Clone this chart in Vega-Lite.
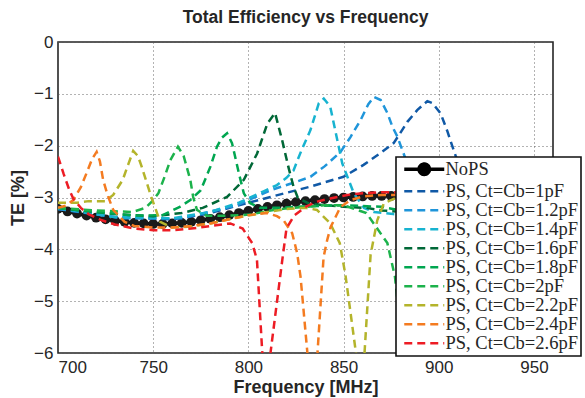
{
  "$schema": "https://vega.github.io/schema/vega-lite/v6.json",
  "autosize": {"type": "none"},
  "width": 495,
  "height": 311,
  "padding": {"left": 58, "top": 42, "right": 32, "bottom": 45},
  "background": "white",
  "title": {"text": "Total Efficiency vs Frequency", "font": "Liberation Sans", "fontSize": 17.5, "fontWeight": "bold", "color": "#262626", "offset": 7, "anchor": "middle"},
  "config": {
    "view": {"stroke": "#262626", "strokeWidth": 1.6},
    "axis": {"labelFont": "Liberation Sans", "labelFontSize": 17, "labelColor": "#262626", "titleFont": "Liberation Sans", "titleFontSize": 18, "titleFontWeight": "bold", "titleColor": "#262626", "grid": true, "gridDash": [1, 3], "gridColor": "#555555", "gridWidth": 0.9, "ticks": false, "domain": false}
  },
  "data": {"values": [
    {"s":"NoPS","f":700,"te":-3.22},{"s":"NoPS","f":705,"te":-3.27},{"s":"NoPS","f":710,"te":-3.31},{"s":"NoPS","f":715,"te":-3.35},{"s":"NoPS","f":720,"te":-3.39},{"s":"NoPS","f":725,"te":-3.42},{"s":"NoPS","f":730,"te":-3.45},{"s":"NoPS","f":735,"te":-3.47},{"s":"NoPS","f":740,"te":-3.49},{"s":"NoPS","f":745,"te":-3.5},{"s":"NoPS","f":750,"te":-3.51},{"s":"NoPS","f":755,"te":-3.51},{"s":"NoPS","f":760,"te":-3.5},{"s":"NoPS","f":765,"te":-3.49},{"s":"NoPS","f":770,"te":-3.47},{"s":"NoPS","f":775,"te":-3.44},{"s":"NoPS","f":780,"te":-3.41},{"s":"NoPS","f":785,"te":-3.38},{"s":"NoPS","f":790,"te":-3.34},{"s":"NoPS","f":795,"te":-3.3},{"s":"NoPS","f":800,"te":-3.26},{"s":"NoPS","f":805,"te":-3.22},{"s":"NoPS","f":810,"te":-3.18},{"s":"NoPS","f":815,"te":-3.15},{"s":"NoPS","f":820,"te":-3.12},{"s":"NoPS","f":825,"te":-3.09},{"s":"NoPS","f":830,"te":-3.07},{"s":"NoPS","f":835,"te":-3.05},{"s":"NoPS","f":840,"te":-3.03},{"s":"NoPS","f":845,"te":-3.01},{"s":"NoPS","f":850,"te":-3.0},{"s":"NoPS","f":855,"te":-2.99},{"s":"NoPS","f":860,"te":-2.98},{"s":"NoPS","f":865,"te":-2.97},{"s":"NoPS","f":870,"te":-2.97},{"s":"NoPS","f":875,"te":-2.97},{"s":"NoPS","f":880,"te":-2.97},{"s":"NoPS","f":885,"te":-2.97},{"s":"NoPS","f":890,"te":-2.98},{"s":"NoPS","f":895,"te":-2.98},{"s":"NoPS","f":900,"te":-2.99},{"s":"NoPS","f":905,"te":-3.0},{"s":"NoPS","f":910,"te":-3.0},{"s":"NoPS","f":915,"te":-3.01},{"s":"NoPS","f":920,"te":-3.02},{"s":"NoPS","f":925,"te":-3.03},{"s":"NoPS","f":930,"te":-3.04},{"s":"NoPS","f":935,"te":-3.05},{"s":"NoPS","f":940,"te":-3.06},{"s":"NoPS","f":945,"te":-3.07},{"s":"NoPS","f":950,"te":-3.08},{"s":"NoPS","f":955,"te":-3.09},{"s":"NoPS","f":960,"te":-3.1},

    {"s":"PS, Ct=Cb=1pF","f":700,"te":-3.22},{"s":"PS, Ct=Cb=1pF","f":730,"te":-3.38},{"s":"PS, Ct=Cb=1pF","f":760,"te":-3.42},{"s":"PS, Ct=Cb=1pF","f":778,"te":-3.32},{"s":"PS, Ct=Cb=1pF","f":795,"te":-3.15},{"s":"PS, Ct=Cb=1pF","f":811.6,"te":-2.99},{"s":"PS, Ct=Cb=1pF","f":832.6,"te":-2.79},{"s":"PS, Ct=Cb=1pF","f":850,"te":-2.6},{"s":"PS, Ct=Cb=1pF","f":860.5,"te":-2.37},{"s":"PS, Ct=Cb=1pF","f":869.5,"te":-2.14},{"s":"PS, Ct=Cb=1pF","f":876.3,"te":-1.95},{"s":"PS, Ct=Cb=1pF","f":879,"te":-1.8},{"s":"PS, Ct=Cb=1pF","f":883.5,"te":-1.54},{"s":"PS, Ct=Cb=1pF","f":888.8,"te":-1.31},{"s":"PS, Ct=Cb=1pF","f":894,"te":-1.14},{"s":"PS, Ct=Cb=1pF","f":896.7,"te":-1.18},{"s":"PS, Ct=Cb=1pF","f":901,"te":-1.38},{"s":"PS, Ct=Cb=1pF","f":904.6,"te":-1.73},{"s":"PS, Ct=Cb=1pF","f":907.2,"te":-2.02},{"s":"PS, Ct=Cb=1pF","f":909,"te":-2.21},{"s":"PS, Ct=Cb=1pF","f":915,"te":-2.7},{"s":"PS, Ct=Cb=1pF","f":925,"te":-3.1},{"s":"PS, Ct=Cb=1pF","f":940,"te":-3.3},{"s":"PS, Ct=Cb=1pF","f":960,"te":-3.4},

    {"s":"PS, Ct=Cb=1.2pF","f":700,"te":-3.22},{"s":"PS, Ct=Cb=1.2pF","f":735,"te":-3.4},{"s":"PS, Ct=Cb=1.2pF","f":765,"te":-3.4},{"s":"PS, Ct=Cb=1.2pF","f":794,"te":-3.15},{"s":"PS, Ct=Cb=1.2pF","f":811.6,"te":-2.86},{"s":"PS, Ct=Cb=1.2pF","f":825,"te":-2.7},{"s":"PS, Ct=Cb=1.2pF","f":832.6,"te":-2.6},{"s":"PS, Ct=Cb=1.2pF","f":840,"te":-2.4},{"s":"PS, Ct=Cb=1.2pF","f":848.4,"te":-2.12},{"s":"PS, Ct=Cb=1.2pF","f":853.7,"te":-1.83},{"s":"PS, Ct=Cb=1.2pF","f":859,"te":-1.5},{"s":"PS, Ct=Cb=1.2pF","f":863,"te":-1.2},{"s":"PS, Ct=Cb=1.2pF","f":866,"te":-1.06},{"s":"PS, Ct=Cb=1.2pF","f":869.5,"te":-1.12},{"s":"PS, Ct=Cb=1.2pF","f":873,"te":-1.37},{"s":"PS, Ct=Cb=1.2pF","f":875.6,"te":-1.63},{"s":"PS, Ct=Cb=1.2pF","f":878.3,"te":-1.83},{"s":"PS, Ct=Cb=1.2pF","f":882,"te":-2.2},{"s":"PS, Ct=Cb=1.2pF","f":886,"te":-2.6},{"s":"PS, Ct=Cb=1.2pF","f":892,"te":-2.95},{"s":"PS, Ct=Cb=1.2pF","f":900,"te":-3.2},{"s":"PS, Ct=Cb=1.2pF","f":920,"te":-3.35},{"s":"PS, Ct=Cb=1.2pF","f":960,"te":-3.5},

    {"s":"PS, Ct=Cb=1.4pF","f":700,"te":-3.2},{"s":"PS, Ct=Cb=1.4pF","f":730,"te":-3.38},{"s":"PS, Ct=Cb=1.4pF","f":760,"te":-3.4},{"s":"PS, Ct=Cb=1.4pF","f":780,"te":-3.28},{"s":"PS, Ct=Cb=1.4pF","f":795,"te":-3.1},{"s":"PS, Ct=Cb=1.4pF","f":808,"te":-2.88},{"s":"PS, Ct=Cb=1.4pF","f":815,"te":-2.76},{"s":"PS, Ct=Cb=1.4pF","f":820,"te":-2.62},{"s":"PS, Ct=Cb=1.4pF","f":823.7,"te":-2.48},{"s":"PS, Ct=Cb=1.4pF","f":825.6,"te":-2.3},{"s":"PS, Ct=Cb=1.4pF","f":828,"te":-2.08},{"s":"PS, Ct=Cb=1.4pF","f":832.6,"te":-1.7},{"s":"PS, Ct=Cb=1.4pF","f":837,"te":-1.18},{"s":"PS, Ct=Cb=1.4pF","f":839.6,"te":-1.09},{"s":"PS, Ct=Cb=1.4pF","f":843,"te":-1.25},{"s":"PS, Ct=Cb=1.4pF","f":846.7,"te":-1.89},{"s":"PS, Ct=Cb=1.4pF","f":849.3,"te":-2.34},{"s":"PS, Ct=Cb=1.4pF","f":852,"te":-2.6},{"s":"PS, Ct=Cb=1.4pF","f":855.4,"te":-2.92},{"s":"PS, Ct=Cb=1.4pF","f":860.7,"te":-3.2},{"s":"PS, Ct=Cb=1.4pF","f":866,"te":-3.28},{"s":"PS, Ct=Cb=1.4pF","f":876,"te":-3.32},{"s":"PS, Ct=Cb=1.4pF","f":900,"te":-3.35},{"s":"PS, Ct=Cb=1.4pF","f":935,"te":-3.5},{"s":"PS, Ct=Cb=1.4pF","f":948,"te":-4.5},{"s":"PS, Ct=Cb=1.4pF","f":955,"te":-6.5},{"s":"PS, Ct=Cb=1.4pF","f":960,"te":-7},

    {"s":"PS, Ct=Cb=1.6pF","f":700,"te":-3.2},{"s":"PS, Ct=Cb=1.6pF","f":730,"te":-3.32},{"s":"PS, Ct=Cb=1.6pF","f":750,"te":-3.36},{"s":"PS, Ct=Cb=1.6pF","f":765,"te":-3.3},{"s":"PS, Ct=Cb=1.6pF","f":776,"te":-3.2},{"s":"PS, Ct=Cb=1.6pF","f":788.8,"te":-2.99},{"s":"PS, Ct=Cb=1.6pF","f":797.6,"te":-2.66},{"s":"PS, Ct=Cb=1.6pF","f":804.6,"te":-2.15},{"s":"PS, Ct=Cb=1.6pF","f":810,"te":-1.57},{"s":"PS, Ct=Cb=1.6pF","f":814,"te":-1.37},{"s":"PS, Ct=Cb=1.6pF","f":817.7,"te":-1.89},{"s":"PS, Ct=Cb=1.6pF","f":821,"te":-2.41},{"s":"PS, Ct=Cb=1.6pF","f":823.7,"te":-2.79},{"s":"PS, Ct=Cb=1.6pF","f":826,"te":-3.01},{"s":"PS, Ct=Cb=1.6pF","f":832,"te":-3.12},{"s":"PS, Ct=Cb=1.6pF","f":850,"te":-3.18},{"s":"PS, Ct=Cb=1.6pF","f":862,"te":-3.2},{"s":"PS, Ct=Cb=1.6pF","f":870,"te":-3.25},{"s":"PS, Ct=Cb=1.6pF","f":890,"te":-3.3},{"s":"PS, Ct=Cb=1.6pF","f":912,"te":-3.3},{"s":"PS, Ct=Cb=1.6pF","f":923,"te":-3.88},{"s":"PS, Ct=Cb=1.6pF","f":927,"te":-4.5},{"s":"PS, Ct=Cb=1.6pF","f":931,"te":-6},{"s":"PS, Ct=Cb=1.6pF","f":933.5,"te":-7.5},{"s":"PS, Ct=Cb=1.6pF","f":936,"te":-6},{"s":"PS, Ct=Cb=1.6pF","f":939,"te":-4.1},{"s":"PS, Ct=Cb=1.6pF","f":943,"te":-3.4},{"s":"PS, Ct=Cb=1.6pF","f":947,"te":-3.1},{"s":"PS, Ct=Cb=1.6pF","f":960,"te":-3.05},

    {"s":"PS, Ct=Cb=1.8pF","f":700,"te":-3.2},{"s":"PS, Ct=Cb=1.8pF","f":720,"te":-3.28},{"s":"PS, Ct=Cb=1.8pF","f":740,"te":-3.35},{"s":"PS, Ct=Cb=1.8pF","f":755,"te":-3.34},{"s":"PS, Ct=Cb=1.8pF","f":764,"te":-3.18},{"s":"PS, Ct=Cb=1.8pF","f":769.5,"te":-3.05},{"s":"PS, Ct=Cb=1.8pF","f":775,"te":-2.86},{"s":"PS, Ct=Cb=1.8pF","f":780,"te":-2.41},{"s":"PS, Ct=Cb=1.8pF","f":783.5,"te":-2.02},{"s":"PS, Ct=Cb=1.8pF","f":786,"te":-1.85},{"s":"PS, Ct=Cb=1.8pF","f":788.8,"te":-1.76},{"s":"PS, Ct=Cb=1.8pF","f":791.4,"te":-1.95},{"s":"PS, Ct=Cb=1.8pF","f":795,"te":-2.53},{"s":"PS, Ct=Cb=1.8pF","f":797.6,"te":-2.92},{"s":"PS, Ct=Cb=1.8pF","f":801,"te":-3.11},{"s":"PS, Ct=Cb=1.8pF","f":806,"te":-3.2},{"s":"PS, Ct=Cb=1.8pF","f":815,"te":-3.2},{"s":"PS, Ct=Cb=1.8pF","f":830,"te":-3.17},{"s":"PS, Ct=Cb=1.8pF","f":850,"te":-3.15},{"s":"PS, Ct=Cb=1.8pF","f":870,"te":-3.18},{"s":"PS, Ct=Cb=1.8pF","f":887,"te":-3.3},{"s":"PS, Ct=Cb=1.8pF","f":898,"te":-3.88},{"s":"PS, Ct=Cb=1.8pF","f":902,"te":-4.5},{"s":"PS, Ct=Cb=1.8pF","f":906,"te":-6},{"s":"PS, Ct=Cb=1.8pF","f":908.5,"te":-7.5},{"s":"PS, Ct=Cb=1.8pF","f":911,"te":-6},{"s":"PS, Ct=Cb=1.8pF","f":914,"te":-4.1},{"s":"PS, Ct=Cb=1.8pF","f":918,"te":-3.4},{"s":"PS, Ct=Cb=1.8pF","f":922,"te":-3.1},{"s":"PS, Ct=Cb=1.8pF","f":930,"te":-3.02},{"s":"PS, Ct=Cb=1.8pF","f":960,"te":-3.05},

    {"s":"PS, Ct=Cb=2pF","f":700,"te":-3.2},{"s":"PS, Ct=Cb=2pF","f":720,"te":-3.25},{"s":"PS, Ct=Cb=2pF","f":739,"te":-3.28},{"s":"PS, Ct=Cb=2pF","f":746,"te":-3.2},{"s":"PS, Ct=Cb=2pF","f":749,"te":-3.09},{"s":"PS, Ct=Cb=2pF","f":752.7,"te":-2.92},{"s":"PS, Ct=Cb=2pF","f":756,"te":-2.6},{"s":"PS, Ct=Cb=2pF","f":759,"te":-2.28},{"s":"PS, Ct=Cb=2pF","f":763,"te":-2.02},{"s":"PS, Ct=Cb=2pF","f":766,"te":-2.2},{"s":"PS, Ct=Cb=2pF","f":769.5,"te":-2.66},{"s":"PS, Ct=Cb=2pF","f":771,"te":-2.99},{"s":"PS, Ct=Cb=2pF","f":773,"te":-3.24},{"s":"PS, Ct=Cb=2pF","f":778,"te":-3.35},{"s":"PS, Ct=Cb=2pF","f":790,"te":-3.35},{"s":"PS, Ct=Cb=2pF","f":801,"te":-3.33},{"s":"PS, Ct=Cb=2pF","f":811.6,"te":-3.25},{"s":"PS, Ct=Cb=2pF","f":820,"te":-3.21},{"s":"PS, Ct=Cb=2pF","f":830,"te":-3.18},{"s":"PS, Ct=Cb=2pF","f":840,"te":-3.15},{"s":"PS, Ct=Cb=2pF","f":850,"te":-3.15},{"s":"PS, Ct=Cb=2pF","f":862,"te":-3.3},{"s":"PS, Ct=Cb=2pF","f":873,"te":-3.88},{"s":"PS, Ct=Cb=2pF","f":877,"te":-4.53},{"s":"PS, Ct=Cb=2pF","f":881,"te":-6},{"s":"PS, Ct=Cb=2pF","f":883.5,"te":-7.5},{"s":"PS, Ct=Cb=2pF","f":886,"te":-6},{"s":"PS, Ct=Cb=2pF","f":889,"te":-4.1},{"s":"PS, Ct=Cb=2pF","f":893,"te":-3.4},{"s":"PS, Ct=Cb=2pF","f":897,"te":-3.1},{"s":"PS, Ct=Cb=2pF","f":905,"te":-3.02},{"s":"PS, Ct=Cb=2pF","f":930,"te":-3.03},{"s":"PS, Ct=Cb=2pF","f":960,"te":-3.05},

    {"s":"PS, Ct=Cb=2.2pF","f":700,"te":-3.1},{"s":"PS, Ct=Cb=2.2pF","f":710,"te":-3.1},{"s":"PS, Ct=Cb=2.2pF","f":716,"te":-3.07},{"s":"PS, Ct=Cb=2.2pF","f":724.7,"te":-3.07},{"s":"PS, Ct=Cb=2.2pF","f":729,"te":-2.95},{"s":"PS, Ct=Cb=2.2pF","f":734,"te":-2.66},{"s":"PS, Ct=Cb=2.2pF","f":737,"te":-2.35},{"s":"PS, Ct=Cb=2.2pF","f":739.5,"te":-2.1},{"s":"PS, Ct=Cb=2.2pF","f":742,"te":-2.2},{"s":"PS, Ct=Cb=2.2pF","f":744,"te":-2.41},{"s":"PS, Ct=Cb=2.2pF","f":749,"te":-2.99},{"s":"PS, Ct=Cb=2.2pF","f":753.7,"te":-3.47},{"s":"PS, Ct=Cb=2.2pF","f":760,"te":-3.58},{"s":"PS, Ct=Cb=2.2pF","f":770,"te":-3.56},{"s":"PS, Ct=Cb=2.2pF","f":780,"te":-3.5},{"s":"PS, Ct=Cb=2.2pF","f":790,"te":-3.42},{"s":"PS, Ct=Cb=2.2pF","f":800,"te":-3.35},{"s":"PS, Ct=Cb=2.2pF","f":810,"te":-3.28},{"s":"PS, Ct=Cb=2.2pF","f":820,"te":-3.22},{"s":"PS, Ct=Cb=2.2pF","f":830,"te":-3.2},{"s":"PS, Ct=Cb=2.2pF","f":836,"te":-3.24},{"s":"PS, Ct=Cb=2.2pF","f":843,"te":-3.5},{"s":"PS, Ct=Cb=2.2pF","f":848,"te":-3.88},{"s":"PS, Ct=Cb=2.2pF","f":851,"te":-4.5},{"s":"PS, Ct=Cb=2.2pF","f":856.5,"te":-6},{"s":"PS, Ct=Cb=2.2pF","f":858.5,"te":-7.5},{"s":"PS, Ct=Cb=2.2pF","f":861,"te":-6},{"s":"PS, Ct=Cb=2.2pF","f":864.2,"te":-4.1},{"s":"PS, Ct=Cb=2.2pF","f":867.7,"te":-3.44},{"s":"PS, Ct=Cb=2.2pF","f":871.2,"te":-3.11},{"s":"PS, Ct=Cb=2.2pF","f":878,"te":-3.0},{"s":"PS, Ct=Cb=2.2pF","f":890,"te":-2.98},{"s":"PS, Ct=Cb=2.2pF","f":920,"te":-3.0},{"s":"PS, Ct=Cb=2.2pF","f":960,"te":-3.02},

    {"s":"PS, Ct=Cb=2.4pF","f":700,"te":-3.2},{"s":"PS, Ct=Cb=2.4pF","f":704,"te":-3.16},{"s":"PS, Ct=Cb=2.4pF","f":708,"te":-3.05},{"s":"PS, Ct=Cb=2.4pF","f":712,"te":-2.8},{"s":"PS, Ct=Cb=2.4pF","f":715,"te":-2.53},{"s":"PS, Ct=Cb=2.4pF","f":718,"te":-2.25},{"s":"PS, Ct=Cb=2.4pF","f":720.3,"te":-2.12},{"s":"PS, Ct=Cb=2.4pF","f":722,"te":-2.3},{"s":"PS, Ct=Cb=2.4pF","f":723.7,"te":-2.66},{"s":"PS, Ct=Cb=2.4pF","f":726,"te":-2.95},{"s":"PS, Ct=Cb=2.4pF","f":729,"te":-3.24},{"s":"PS, Ct=Cb=2.4pF","f":735,"te":-3.47},{"s":"PS, Ct=Cb=2.4pF","f":740,"te":-3.55},{"s":"PS, Ct=Cb=2.4pF","f":750,"te":-3.58},{"s":"PS, Ct=Cb=2.4pF","f":760,"te":-3.58},{"s":"PS, Ct=Cb=2.4pF","f":770,"te":-3.55},{"s":"PS, Ct=Cb=2.4pF","f":780,"te":-3.5},{"s":"PS, Ct=Cb=2.4pF","f":790,"te":-3.42},{"s":"PS, Ct=Cb=2.4pF","f":800,"te":-3.34},{"s":"PS, Ct=Cb=2.4pF","f":810,"te":-3.3},{"s":"PS, Ct=Cb=2.4pF","f":815,"te":-3.36},{"s":"PS, Ct=Cb=2.4pF","f":818.5,"te":-3.44},{"s":"PS, Ct=Cb=2.4pF","f":823,"te":-3.69},{"s":"PS, Ct=Cb=2.4pF","f":825.6,"te":-4.07},{"s":"PS, Ct=Cb=2.4pF","f":827.4,"te":-4.53},{"s":"PS, Ct=Cb=2.4pF","f":831,"te":-6},{"s":"PS, Ct=Cb=2.4pF","f":833.5,"te":-7.5},{"s":"PS, Ct=Cb=2.4pF","f":836.3,"te":-6},{"s":"PS, Ct=Cb=2.4pF","f":839.5,"te":-4.15},{"s":"PS, Ct=Cb=2.4pF","f":841.4,"te":-3.82},{"s":"PS, Ct=Cb=2.4pF","f":843.2,"te":-3.57},{"s":"PS, Ct=Cb=2.4pF","f":848.4,"te":-3.18},{"s":"PS, Ct=Cb=2.4pF","f":853.7,"te":-3.05},{"s":"PS, Ct=Cb=2.4pF","f":860,"te":-2.98},{"s":"PS, Ct=Cb=2.4pF","f":870,"te":-2.95},{"s":"PS, Ct=Cb=2.4pF","f":880,"te":-2.95},{"s":"PS, Ct=Cb=2.4pF","f":900,"te":-2.96},{"s":"PS, Ct=Cb=2.4pF","f":930,"te":-2.98},{"s":"PS, Ct=Cb=2.4pF","f":960,"te":-3.0},

    {"s":"PS, Ct=Cb=2.6pF","f":700,"te":-2.21},{"s":"PS, Ct=Cb=2.6pF","f":703,"te":-2.55},{"s":"PS, Ct=Cb=2.6pF","f":706,"te":-2.86},{"s":"PS, Ct=Cb=2.6pF","f":708,"te":-3.02},{"s":"PS, Ct=Cb=2.6pF","f":712,"te":-3.2},{"s":"PS, Ct=Cb=2.6pF","f":716,"te":-3.32},{"s":"PS, Ct=Cb=2.6pF","f":723,"te":-3.44},{"s":"PS, Ct=Cb=2.6pF","f":730,"te":-3.52},{"s":"PS, Ct=Cb=2.6pF","f":740,"te":-3.6},{"s":"PS, Ct=Cb=2.6pF","f":750,"te":-3.63},{"s":"PS, Ct=Cb=2.6pF","f":760,"te":-3.63},{"s":"PS, Ct=Cb=2.6pF","f":770,"te":-3.6},{"s":"PS, Ct=Cb=2.6pF","f":780,"te":-3.55},{"s":"PS, Ct=Cb=2.6pF","f":790.5,"te":-3.5},{"s":"PS, Ct=Cb=2.6pF","f":797,"te":-3.6},{"s":"PS, Ct=Cb=2.6pF","f":802,"te":-3.88},{"s":"PS, Ct=Cb=2.6pF","f":804.5,"te":-4.2},{"s":"PS, Ct=Cb=2.6pF","f":807.3,"te":-6},{"s":"PS, Ct=Cb=2.6pF","f":809.5,"te":-7.5},{"s":"PS, Ct=Cb=2.6pF","f":811.6,"te":-6},{"s":"PS, Ct=Cb=2.6pF","f":818,"te":-4.15},{"s":"PS, Ct=Cb=2.6pF","f":820,"te":-3.6},{"s":"PS, Ct=Cb=2.6pF","f":824,"te":-3.35},{"s":"PS, Ct=Cb=2.6pF","f":830,"te":-3.18},{"s":"PS, Ct=Cb=2.6pF","f":836,"te":-3.08},{"s":"PS, Ct=Cb=2.6pF","f":843,"te":-3.02},{"s":"PS, Ct=Cb=2.6pF","f":852,"te":-2.95},{"s":"PS, Ct=Cb=2.6pF","f":860,"te":-2.92},{"s":"PS, Ct=Cb=2.6pF","f":870,"te":-2.9},{"s":"PS, Ct=Cb=2.6pF","f":880,"te":-2.9},{"s":"PS, Ct=Cb=2.6pF","f":900,"te":-2.92},{"s":"PS, Ct=Cb=2.6pF","f":920,"te":-2.95},{"s":"PS, Ct=Cb=2.6pF","f":940,"te":-2.97},{"s":"PS, Ct=Cb=2.6pF","f":960,"te":-3.0}
  ]},
  "encoding": {
    "x": {"field": "f", "type": "quantitative", "scale": {"domain": [700, 960], "nice": false, "zero": false}, "axis": {"values": [700, 750, 800, 850, 900, 950], "title": "Frequency [MHz]", "labelPadding": 6, "titlePadding": 3}},
    "y": {"field": "te", "type": "quantitative", "scale": {"domain": [-6, 0], "nice": false, "zero": false}, "axis": {"values": [-6, -5, -4, -3, -2, -1, 0], "title": "TE [%]", "labelPadding": 5, "titlePadding": 6}}
  },
  "layer": [
    {
      "transform": [{"filter": "datum.s === 'NoPS'"}],
      "mark": {"type": "line", "strokeWidth": 3.5, "clip": true},
      "encoding": {
        "color": {"field": "s", "type": "nominal", "sort": null, "scale": {"domain": ["NoPS", "PS, Ct=Cb=1pF", "PS, Ct=Cb=1.2pF", "PS, Ct=Cb=1.4pF", "PS, Ct=Cb=1.6pF", "PS, Ct=Cb=1.8pF", "PS, Ct=Cb=2pF", "PS, Ct=Cb=2.2pF", "PS, Ct=Cb=2.4pF", "PS, Ct=Cb=2.6pF"], "range": ["#000000", "#1059a6", "#1f95da", "#17b3d0", "#006837", "#00a650", "#1cb24b", "#b4b42b", "#f47b20", "#ed1c24"]}, "legend": {
          "title": null, "orient": "none", "legendX": 338, "legendY": 115,
          "fillColor": "white", "strokeColor": "#111111", "padding": 3,
          "labelFont": "Liberation Serif", "labelFontSize": 18.5, "labelColor": "#262626", "labelLimit": 400, "labelOffset": 12,
          "symbolSize": 1600, "symbolOffset": 16, "symbolStrokeWidth": 2.5, "rowPadding": -1,
          "encode": {
            "legend": {"update": {"strokeWidth": {"value": 1.6}}},
            "symbols": {"update": {
              "shape": {"signal": "datum.value === 'NoPS' ? 'M-1,0H1M-0.26,0A0.26,0.26,0,1,0,0.26,0A0.26,0.26,0,1,0,-0.26,0' : 'M-1,0H1'"},
              "fill": {"signal": "datum.value === 'NoPS' ? '#000000' : 'transparent'"},
              "strokeWidth": {"signal": "datum.value === 'NoPS' ? 3.5 : 2.5"}
            }}
          }
        }},
        "strokeDash": {"field": "s", "type": "nominal", "sort": null, "scale": {"domain": ["NoPS", "PS, Ct=Cb=1pF", "PS, Ct=Cb=1.2pF", "PS, Ct=Cb=1.4pF", "PS, Ct=Cb=1.6pF", "PS, Ct=Cb=1.8pF", "PS, Ct=Cb=2pF", "PS, Ct=Cb=2.2pF", "PS, Ct=Cb=2.4pF", "PS, Ct=Cb=2.6pF"], "range": [[1, 0], [8, 5], [8, 5], [8, 5], [8, 5], [8, 5], [8, 5], [8, 5], [8, 5], [8, 5]]}}
      }
    },
    {
      "transform": [{"filter": "datum.s === 'NoPS'"}],
      "mark": {"type": "point", "shape": "circle", "filled": true, "size": 95, "color": "#1a1a1a", "opacity": 1, "clip": true}
    },
    {
      "transform": [{"filter": "datum.s !== 'NoPS'"}],
      "mark": {"type": "line", "strokeWidth": 2.5, "clip": true},
      "encoding": {
        "color": {"field": "s", "type": "nominal", "sort": null},
        "strokeDash": {"field": "s", "type": "nominal", "sort": null}
      }
    }
  ]
}
